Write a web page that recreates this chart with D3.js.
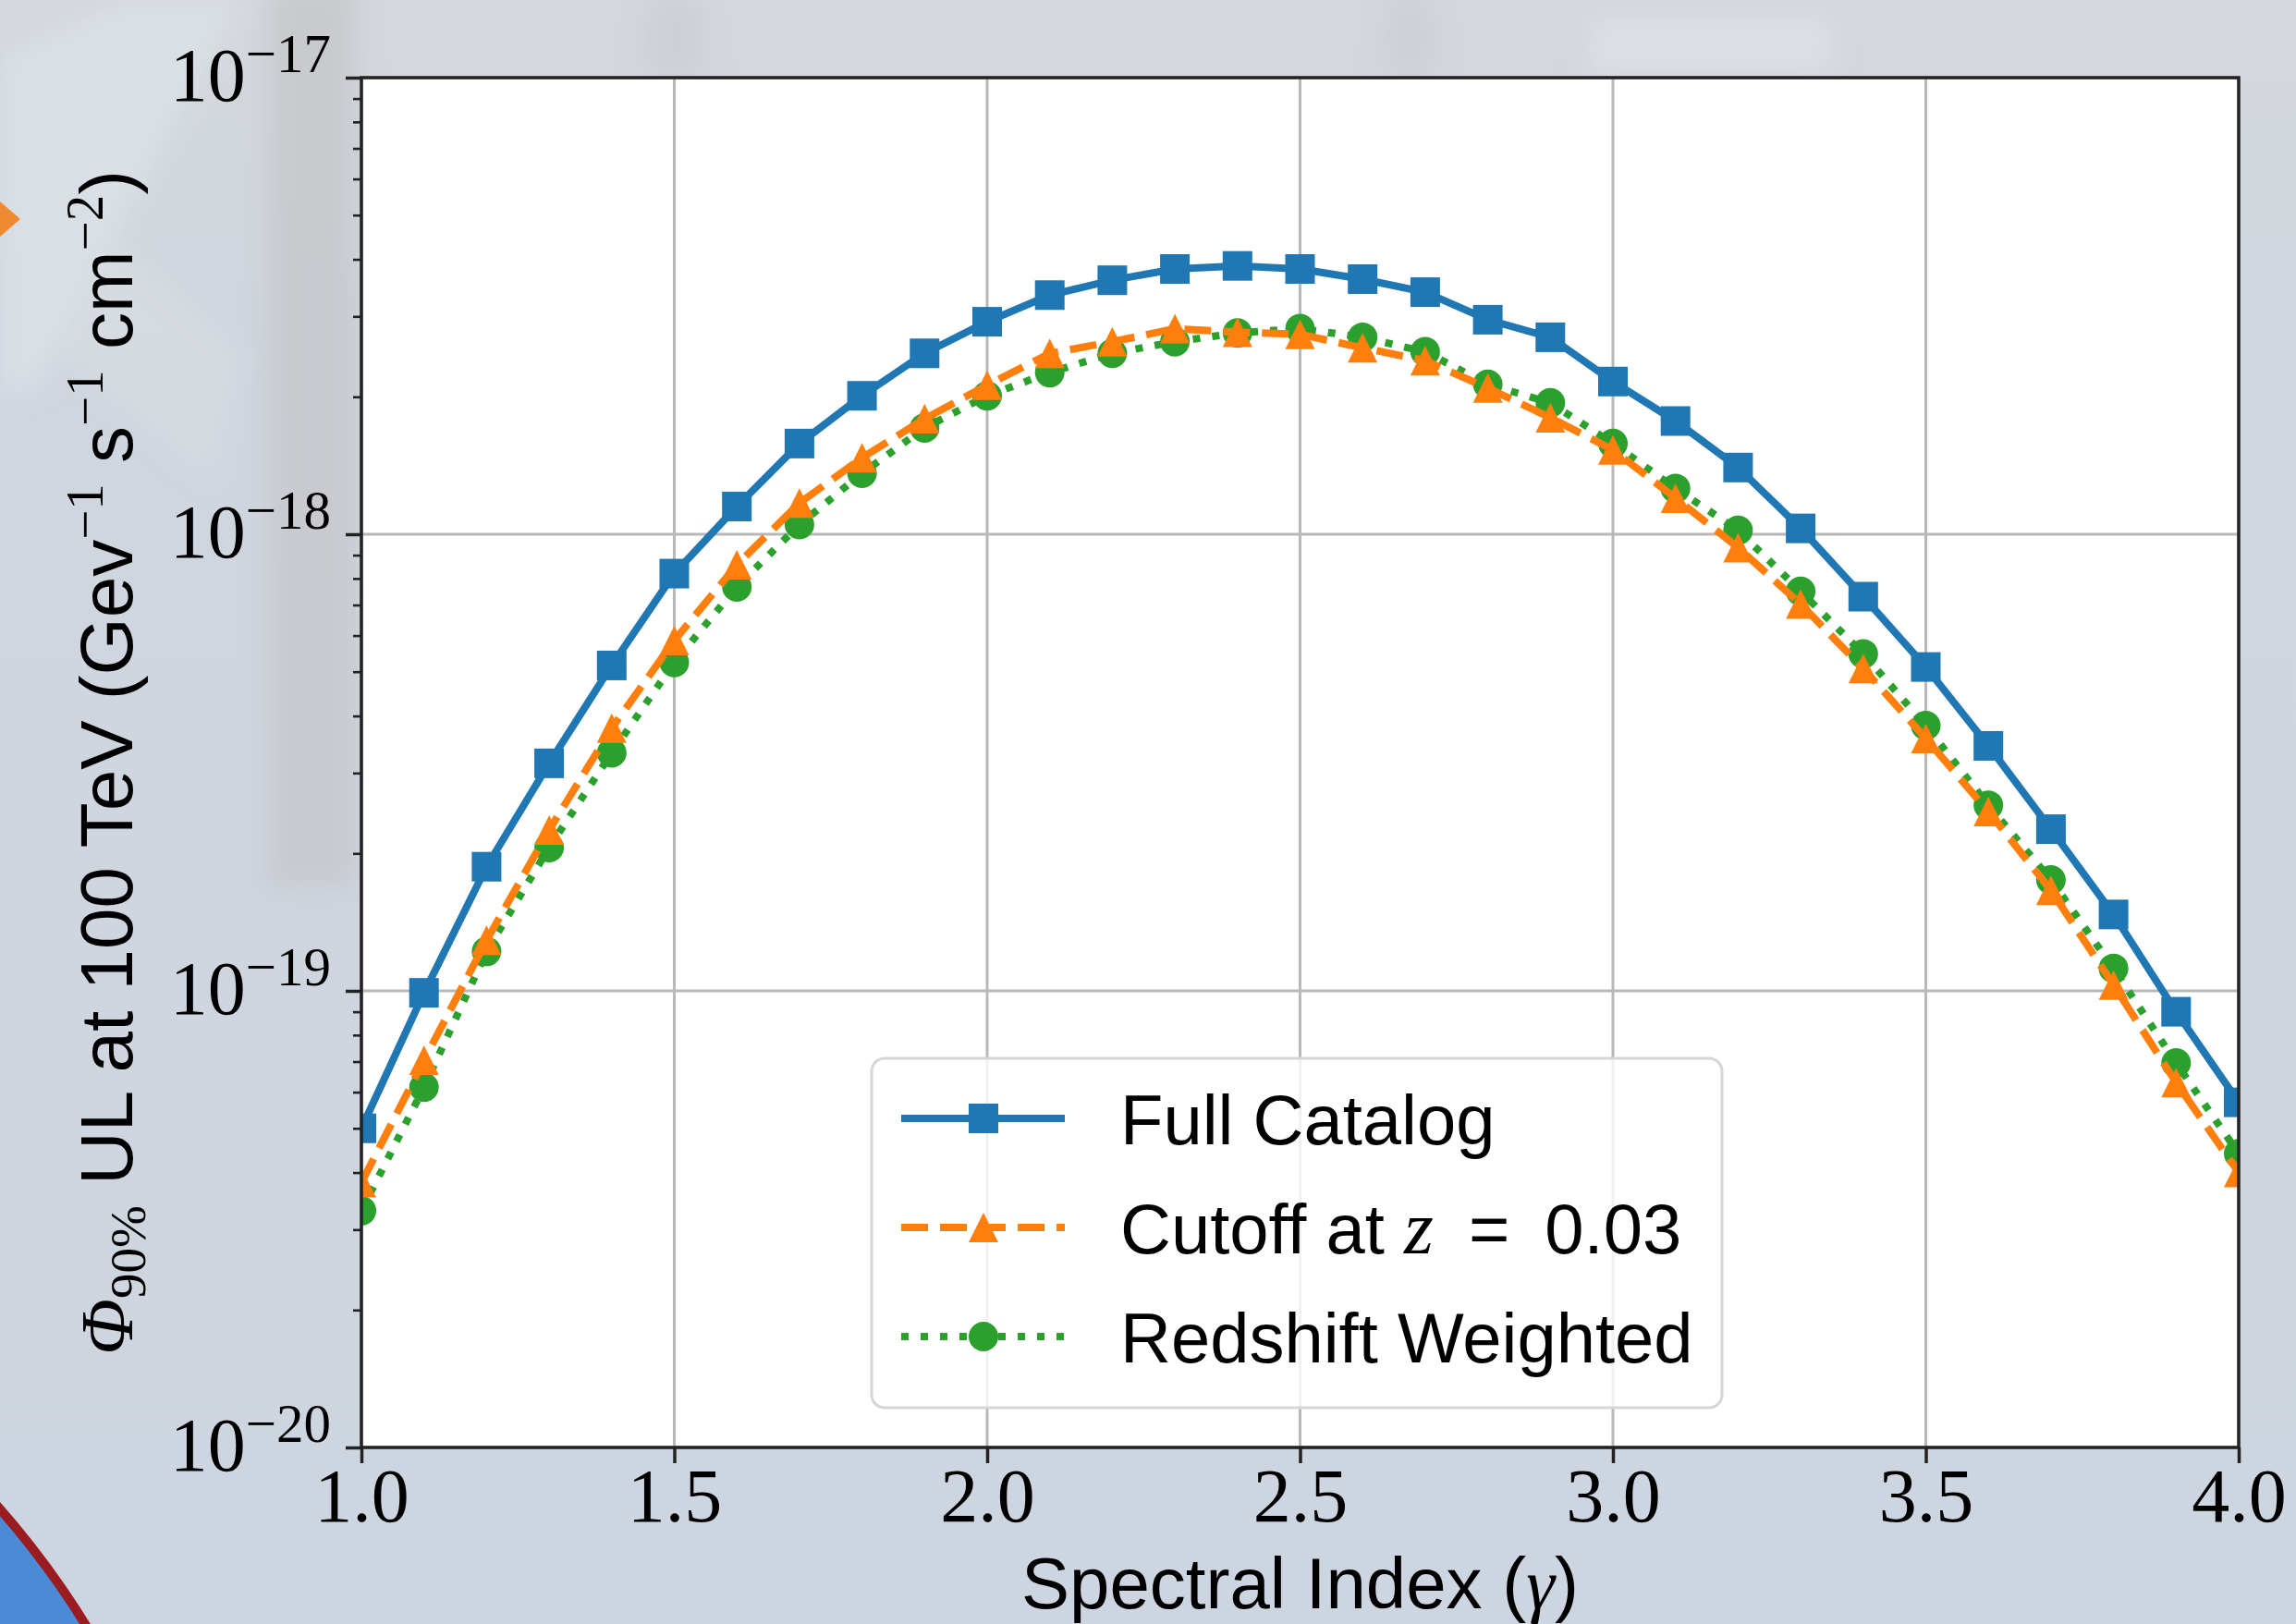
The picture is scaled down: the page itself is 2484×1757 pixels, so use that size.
<!DOCTYPE html>
<html>
<head>
<meta charset="utf-8">
<script src="https://cdn.jsdelivr.net/npm/d3@7/dist/d3.min.js"></script>
<style>
body { margin:0; overflow:hidden; background:#cfd7e1; }
svg { display:block; }
</style>
</head>
<body>
<svg id="chart"></svg>
<script>
// spectral index values on the x axis
var gammas = [1.0, 1.1, 1.2, 1.3, 1.4, 1.5, 1.6, 1.7, 1.8, 1.9, 2.0,
              2.1, 2.2, 2.3, 2.4, 2.5, 2.6, 2.7, 2.8, 2.9, 3.0,
              3.1, 3.2, 3.3, 3.4, 3.5, 3.6, 3.7, 3.8, 3.9, 4.0];

var fullCatalog = [5.0e-20, 9.9e-20, 1.87e-19, 3.15e-19, 5.16e-19, 8.2e-19, 1.15e-18, 1.58e-18, 2.01e-18, 2.49e-18, 2.92e-18,
                   3.34e-18, 3.6e-18, 3.81e-18, 3.87e-18, 3.81e-18, 3.62e-18, 3.39e-18, 2.95e-18, 2.70e-18, 2.16e-18,
                   1.77e-18, 1.40e-18, 1.03e-18, 7.3e-19, 5.12e-19, 3.44e-19, 2.26e-19, 1.47e-19, 9.0e-20, 5.7e-20];

var cutoffZ = [3.8e-20, 7.05e-20, 1.29e-19, 2.25e-19, 3.76e-19, 5.85e-19, 8.57e-19, 1.17e-18, 1.47e-18, 1.79e-18, 2.12e-18,
               2.49e-18, 2.64e-18, 2.82e-18, 2.77e-18, 2.74e-18, 2.56e-18, 2.40e-18, 2.09e-18, 1.80e-18, 1.53e-18,
               1.20e-18, 9.35e-19, 7.03e-19, 5.08e-19, 3.57e-19, 2.47e-19, 1.66e-19, 1.03e-19, 6.3e-20, 4.0e-20];

var redshiftWeighted = [3.3e-20, 6.15e-20, 1.22e-19, 2.06e-19, 3.32e-19, 5.24e-19, 7.67e-19, 1.05e-18, 1.36e-18, 1.71e-18, 2.01e-18,
                        2.26e-18, 2.49e-18, 2.64e-18, 2.76e-18, 2.82e-18, 2.70e-18, 2.51e-18, 2.13e-18, 1.94e-18, 1.58e-18,
                        1.26e-18, 1.02e-18, 7.5e-19, 5.47e-19, 3.81e-19, 2.55e-19, 1.75e-19, 1.12e-19, 6.95e-20, 4.4e-20];

var xTicks = [1.0, 1.5, 2.0, 2.5, 3.0, 3.5, 4.0];
var xTickLabels = ["1.0", "1.5", "2.0", "2.5", "3.0", "3.5", "4.0"];
var yTicks = [1e-20, 1e-19, 1e-18, 1e-17];
var yTickExponents = ["\u221220", "\u221219", "\u221218", "\u221217"];

var seriesNames = ["Full Catalog", "Cutoff at z = 0.03", "Redshift Weighted"];
var colors = {blue:"#1f77b4", orange:"#ff7f0e", green:"#2ca02c"};

var sansFont = "'Liberation Sans', Arial, sans-serif";
var serifFont = "'Liberation Serif', 'Times New Roman', serif";

var drawBackground = function(svg, screen)
{
    var defs = svg.append("defs");
    var grad = defs.append("linearGradient")
        .attr("id", "bgGrad")
        .attr("x1", 0).attr("y1", 0).attr("x2", 0).attr("y2", 1);
    grad.append("stop").attr("offset", "0%").attr("stop-color", "#d4d8dd");
    grad.append("stop").attr("offset", "20%").attr("stop-color", "#d0d6de");
    grad.append("stop").attr("offset", "100%").attr("stop-color", "#cdd5e0");

    defs.append("filter").attr("id", "blur")
        .append("feGaussianBlur").attr("stdDeviation", 14);

    svg.append("rect")
        .attr("width", screen.width)
        .attr("height", screen.height)
        .attr("fill", "url(#bgGrad)");

    // blurry photo shapes behind the chart
    var shapes = svg.append("g").attr("filter", "url(#blur)");
    shapes.append("rect")
        .attr("x", 290).attr("y", -20).attr("width", 95).attr("height", 980)
        .attr("fill", "#c5c7cb").attr("opacity", 0.8);
    shapes.append("polygon")
        .attr("points", "0,60 140,0 260,0 40,420 0,430")
        .attr("fill", "#dde2e8").attr("opacity", 0.7);
    shapes.append("polygon")
        .attr("points", "120,250 260,380 230,520 60,380")
        .attr("fill", "#d9dde2").attr("opacity", 0.6);
    shapes.append("rect")
        .attr("x", 700).attr("y", 0).attr("width", 60).attr("height", 80)
        .attr("fill", "#c9cdd2").attr("opacity", 0.7);
    shapes.append("rect")
        .attr("x", 1500).attr("y", 0).attr("width", 50).attr("height", 80)
        .attr("fill", "#c8ccd1").attr("opacity", 0.6);
    shapes.append("rect")
        .attr("x", 1720).attr("y", 20).attr("width", 260).attr("height", 60)
        .attr("fill", "#dfe3e8").attr("opacity", 0.7);

    // edge of the round logo in the corner
    svg.append("circle")
        .attr("cx", -720).attr("cy", 2260).attr("r", 955)
        .attr("fill", "#4a8ad6")
        .attr("stroke", "#9b1c20")
        .attr("stroke-width", 10);

    svg.append("polygon")
        .attr("points", "0,218 22,237 0,256")
        .attr("fill", "#f08a32");
}

var drawGrid = function(target, graph, xScale, yScale)
{
    var grid = target.append("g").attr("class", "grid");

    grid.selectAll("line.vgrid")
        .data(xTicks)
        .enter()
        .append("line")
        .attr("x1", function(d) { return xScale(d); })
        .attr("x2", function(d) { return xScale(d); })
        .attr("y1", 0)
        .attr("y2", graph.height)
        .attr("stroke", "#b8b8b8")
        .attr("stroke-width", 3);

    grid.selectAll("line.hgrid")
        .data(yTicks)
        .enter()
        .append("line")
        .attr("x1", 0)
        .attr("x2", graph.width)
        .attr("y1", function(d) { return yScale(d); })
        .attr("y2", function(d) { return yScale(d); })
        .attr("stroke", "#b8b8b8")
        .attr("stroke-width", 3);
}

var markerPath = function(shape, g, x, y, color)
{
    if (shape == "square")
    {
        g.append("rect")
            .attr("x", x - 16).attr("y", y - 16)
            .attr("width", 32).attr("height", 32)
            .attr("fill", color);
    }
    else if (shape == "triangle")
    {
        g.append("path")
            .attr("d", "M" + x + "," + (y - 16) + " L" + (x + 16) + "," + (y + 16) + " L" + (x - 16) + "," + (y + 16) + " Z")
            .attr("fill", color);
    }
    else
    {
        g.append("circle")
            .attr("cx", x).attr("cy", y).attr("r", 16)
            .attr("fill", color);
    }
}

var drawLines = function(series, target, xScale, yScale)
{
    var plotLine = d3.line()
        .x(function(d) { return xScale(d.x); })
        .y(function(d) { return yScale(d.y); });

    var lines = target.append("g")
        .attr("clip-path", "url(#plotClip)");

    series.forEach(function(s)
    {
        var points = gammas.map(function(g, i) { return {x:g, y:s.values[i]}; });

        lines.append("path")
            .datum(points)
            .attr("fill", "none")
            .attr("d", plotLine)
            .attr("stroke", s.color)
            .attr("stroke-width", 8)
            .attr("stroke-linejoin", "round")
            .attr("stroke-dasharray", s.dash);

        var marks = lines.append("g");
        points.forEach(function(p)
        {
            markerPath(s.shape, marks, xScale(p.x), yScale(p.y), s.color);
        });
    });
}

var drawAxes = function(target, graph, xScale, yScale)
{
    var xAxis = d3.axisBottom(xScale)
        .tickValues(xTicks)
        .tickSize(17)
        .tickPadding(5)
        .tickFormat(function(d, i) { return xTickLabels[i]; });

    var xg = target.append("g")
        .attr("transform", "translate(0," + graph.height + ")")
        .call(xAxis);
    xg.select(".domain").remove();
    xg.selectAll(".tick line").attr("stroke", "#222").attr("stroke-width", 3.5);
    xg.selectAll(".tick text")
        .attr("font-family", serifFont)
        .attr("font-size", 82)
        .attr("fill", "#000");

    var yAxis = d3.axisLeft(yScale)
        .tickValues(yTicks)
        .tickSize(17)
        .tickFormat("");

    var yg = target.append("g").call(yAxis);
    yg.select(".domain").remove();
    yg.selectAll(".tick line").attr("stroke", "#222").attr("stroke-width", 3.5);

    // log minor ticks
    var minorTicks = [];
    [-20, -19, -18].forEach(function(k)
    {
        for (var m = 2; m < 10; m++) { minorTicks.push(m * Math.pow(10, k)); }
    });

    var yMinor = d3.axisLeft(yScale)
        .tickValues(minorTicks)
        .tickSize(9)
        .tickFormat("");
    var ym = target.append("g").call(yMinor);
    ym.select(".domain").remove();
    ym.selectAll(".tick line").attr("stroke", "#222").attr("stroke-width", 2.6);

    var ylabels = target.append("g")
        .selectAll("text")
        .data(yTicks)
        .enter()
        .append("text")
        .attr("x", -33)
        .attr("y", function(d) { return yScale(d) + 25; })
        .attr("text-anchor", "end")
        .attr("font-family", serifFont)
        .attr("font-size", 82)
        .attr("fill", "#000");

    ylabels.append("tspan").text("10");
    ylabels.append("tspan")
        .attr("dy", -31)
        .attr("font-size", 59)
        .text(function(d, i) { return yTickExponents[i]; });

    // frame
    target.append("rect")
        .attr("x", 0).attr("y", 0)
        .attr("width", graph.width)
        .attr("height", graph.height)
        .attr("fill", "none")
        .attr("stroke", "#222")
        .attr("stroke-width", 3.5);
}

var drawLabels = function(svg, graph, margins)
{
    var xlab = svg.append("text")
        .attr("text-anchor", "middle")
        .attr("x", margins.left + graph.width / 2)
        .attr("y", 1740)
        .attr("font-family", sansFont)
        .attr("font-size", 78)
        .attr("fill", "#000");
    xlab.append("tspan").text("Spectral Index (");
    xlab.append("tspan").attr("font-family", serifFont).attr("font-style", "italic").text("\u03b3");
    xlab.append("tspan").text(")");

    var ylab = svg.append("g")
        .attr("transform", "translate(143," + (margins.top + graph.height / 2) + ")")
        .append("text")
        .attr("text-anchor", "middle")
        .attr("transform", "rotate(-90)")
        .attr("font-family", sansFont)
        .attr("font-size", 80)
        .attr("fill", "#000");

    ylab.append("tspan").attr("font-family", serifFont).attr("font-style", "italic").text("\u03a6");
    ylab.append("tspan").attr("font-family", serifFont).attr("font-size", 55).attr("dy", 14).text("90%");
    ylab.append("tspan").attr("dy", -14).text(" UL at 100 TeV (Gev");
    ylab.append("tspan").attr("font-family", serifFont).attr("font-size", 57).attr("dy", -32).text("\u22121");
    ylab.append("tspan").attr("dy", 32).text(" s");
    ylab.append("tspan").attr("font-family", serifFont).attr("font-size", 57).attr("dy", -32).text("\u22121");
    ylab.append("tspan").attr("dy", 32).text(" cm");
    ylab.append("tspan").attr("font-family", serifFont).attr("font-size", 57).attr("dy", -32).text("\u22122");
    ylab.append("tspan").attr("dy", 32).text(")");
}

var drawLegend = function(svg, series)
{
    var legend = svg.append("g")
        .attr("id", "legend")
        .attr("transform", "translate(943,1145)");

    legend.append("rect")
        .attr("width", 920)
        .attr("height", 378)
        .attr("rx", 14)
        .attr("fill", "white")
        .attr("fill-opacity", 0.8)
        .attr("stroke", "#d6d6d6")
        .attr("stroke-width", 3);

    var entries = legend.selectAll("g.entry")
        .data(series)
        .enter()
        .append("g")
        .attr("class", "entry")
        .attr("transform", function(d, i) { return "translate(0," + (65 + i * 118) + ")"; });

    entries.append("line")
        .attr("x1", 32).attr("x2", 209)
        .attr("y1", 0).attr("y2", 0)
        .attr("stroke", function(d) { return d.color; })
        .attr("stroke-width", 8)
        .attr("stroke-dasharray", function(d) { return d.dash; });

    entries.each(function(d)
    {
        markerPath(d.shape, d3.select(this), 121, 0, d.color);
    });

    var labels = entries.append("text")
        .attr("x", 269)
        .attr("y", 28)
        .attr("font-family", sansFont)
        .attr("font-size", 76)
        .attr("fill", "#000");

    labels.each(function(d, i)
    {
        var t = d3.select(this);
        if (i == 1)
        {
            t.append("tspan").text("Cutoff at ");
            t.append("tspan").attr("font-family", serifFont).attr("font-style", "italic").attr("font-size", 82).text("z");
            t.append("tspan").text("\u2002=\u20020.03");
        }
        else
        {
            t.text(d.name);
        }
    });
}

var initGraph = function()
{
    var screen = {width:2484, height:1757};
    var margins = {left:391, right:62, top:84, bottom:191};

    var graph =
        {
            width:screen.width - margins.left - margins.right,
            height:screen.height - margins.top - margins.bottom
        };
    console.log(graph);

    var svg = d3.select("#chart")
        .attr("width", screen.width)
        .attr("height", screen.height);

    drawBackground(svg, screen);

    var target = svg.append("g")
        .attr("id", "graph")
        .attr("transform", "translate(" + margins.left + "," + margins.top + ")");

    svg.select("defs").append("clipPath")
        .attr("id", "plotClip")
        .append("rect")
        .attr("width", graph.width)
        .attr("height", graph.height);

    target.append("rect")
        .attr("width", graph.width)
        .attr("height", graph.height)
        .attr("fill", "white");

    var xScale = d3.scaleLinear()
        .domain([1.0, 4.0])
        .range([0, graph.width]);

    var yScale = d3.scaleLog()
        .domain([1e-20, 1e-17])
        .range([graph.height, 0]);

    // drawn in this order so the orange sits over the green
    var series = [
        {name:seriesNames[0], values:fullCatalog, color:colors.blue, shape:"square", dash:null},
        {name:seriesNames[1], values:cutoffZ, color:colors.orange, shape:"triangle", dash:"29,13"},
        {name:seriesNames[2], values:redshiftWeighted, color:colors.green, shape:"circle", dash:"8,13"}
    ];

    drawGrid(target, graph, xScale, yScale);
    drawLines([series[0], series[2], series[1]], target, xScale, yScale);
    drawAxes(target, graph, xScale, yScale);
    drawLabels(svg, graph, margins);
    drawLegend(svg, series);
}

initGraph();
</script>
</body>
</html>
